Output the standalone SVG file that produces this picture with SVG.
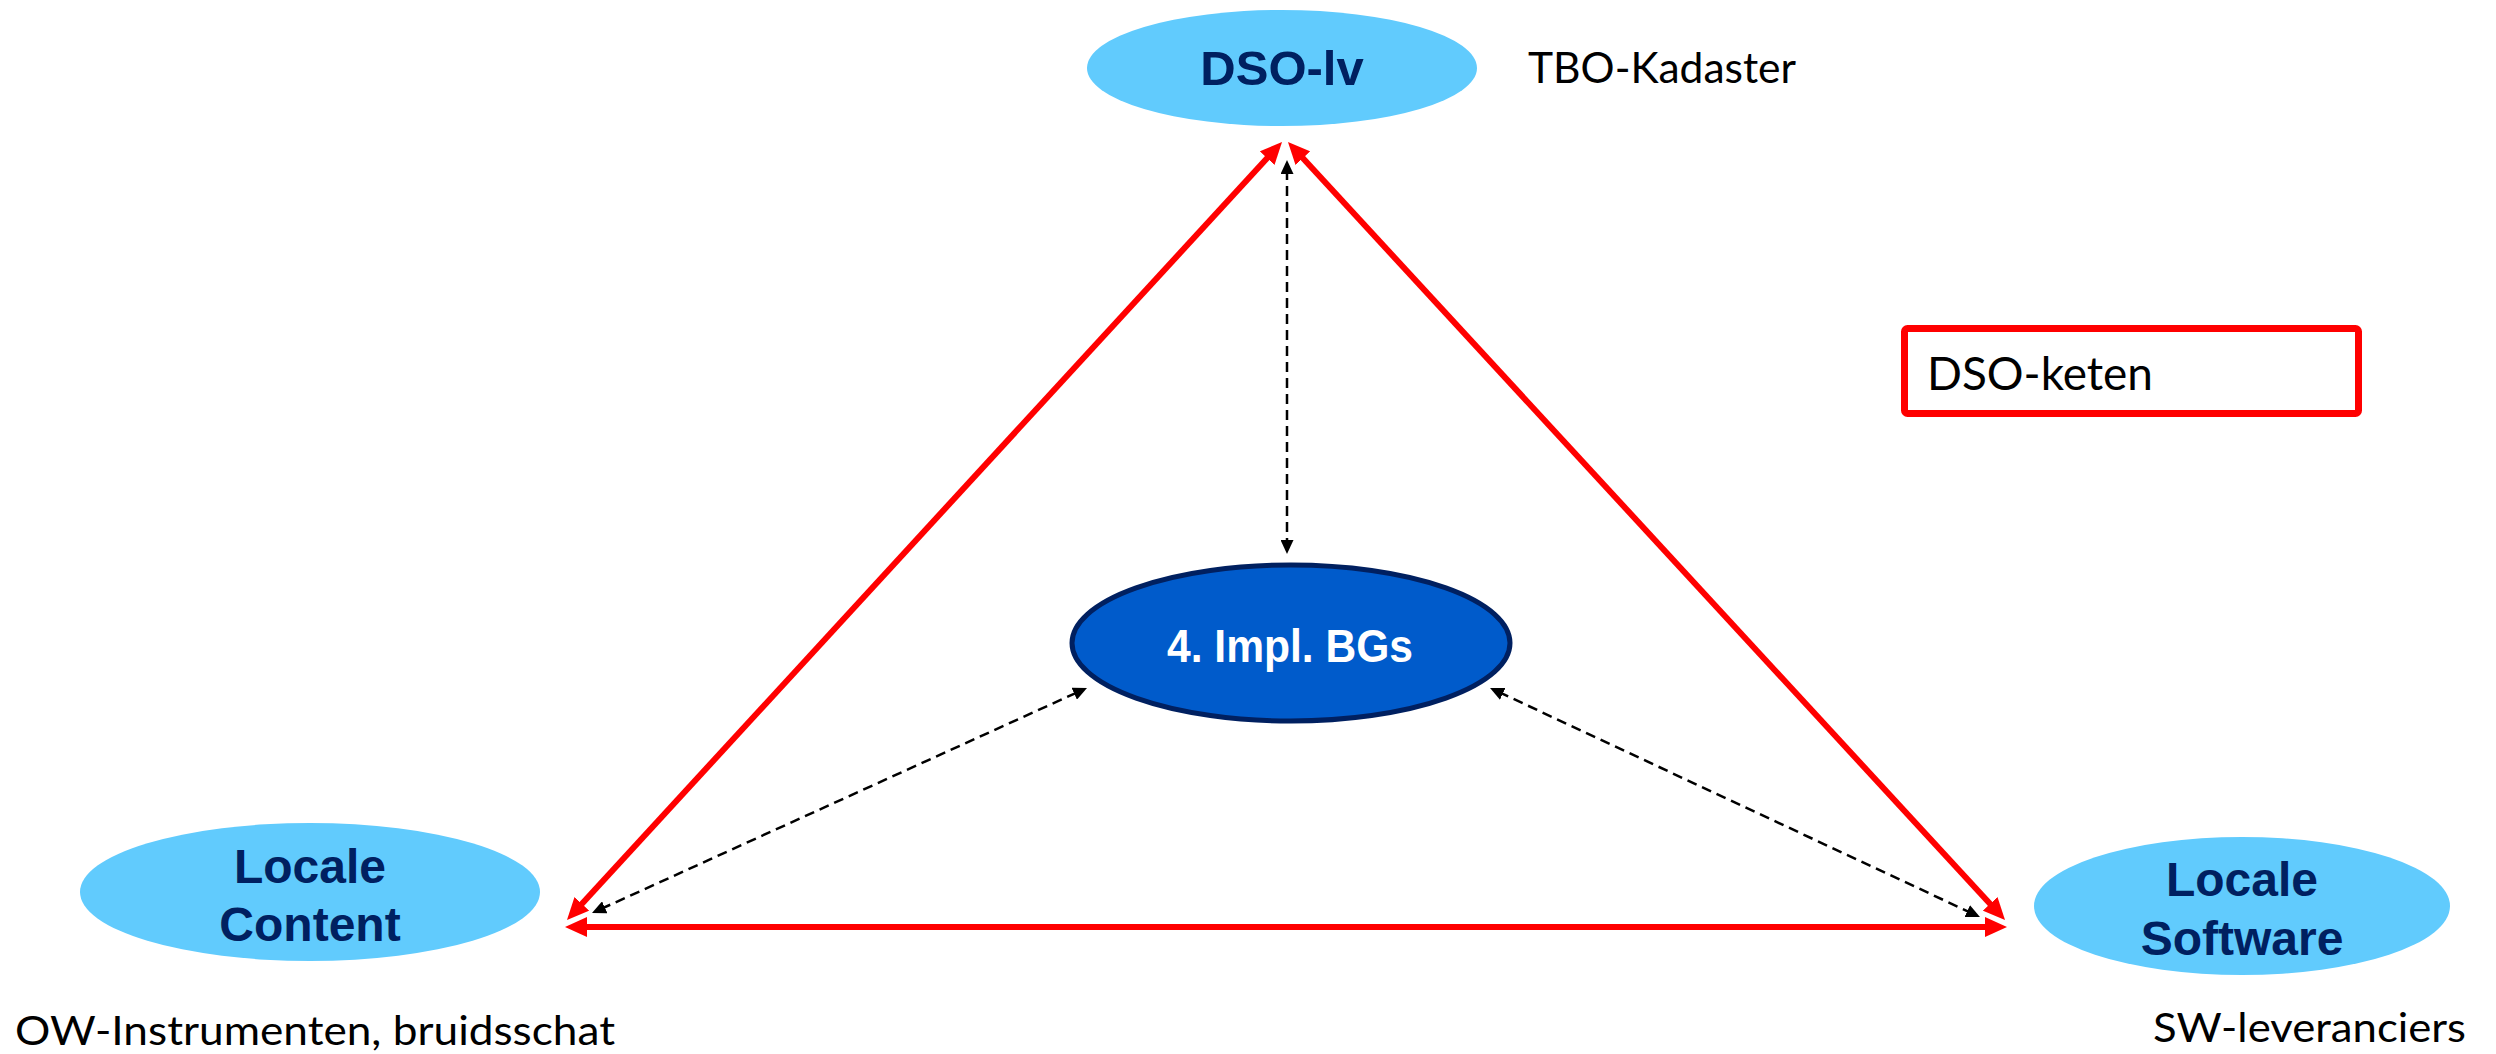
<svg xmlns="http://www.w3.org/2000/svg" width="2496" height="1054" viewBox="0 0 2496 1054">
<style>
.light{fill:#61CBFD;stroke:none}
.lbl{font-family:"Liberation Sans",Arial,sans-serif;font-weight:bold;fill:#002060;text-anchor:middle}
.note{font-family:Lato,"Open Sans",sans-serif;fill:#000}
.red{stroke:#FF0000;stroke-width:6;fill:none;marker-start:url(#ra);marker-end:url(#ra)}
.dash{stroke:#000;stroke-width:2.5;stroke-dasharray:10 6;fill:none;marker-start:url(#ba);marker-end:url(#ba)}
</style>
<defs>
<marker id="ra" markerUnits="userSpaceOnUse" viewBox="0 0 22 20" markerWidth="22" markerHeight="20" refX="10" refY="10" orient="auto-start-reverse">
<path d="M0,0 L22,10 L0,20 z" fill="#FF0000"/>
</marker>
<marker id="ba" markerUnits="userSpaceOnUse" viewBox="0 0 14 13" markerWidth="14" markerHeight="13" refX="4" refY="6.5" orient="auto-start-reverse">
<path d="M0,0 L14,6.5 L0,13 z" fill="#000"/>
</marker>
</defs>
<rect width="2496" height="1054" fill="#fff"/>
<g id="connectors">
<line class="red" x1="575.1" y1="911.2" x2="1273.9" y2="150.8"/>
<line class="red" x1="1296.1" y1="150.8" x2="1996.9" y2="911.2"/>
<line class="red" x1="577" y1="927" x2="1995" y2="927"/>
<line class="dash" x1="1287" y1="170" x2="1287" y2="544"/>
<line class="dash" x1="601.1" y1="908.9" x2="1077.9" y2="692.1"/>
<line class="dash" x1="1499.1" y1="692.2" x2="1970.9" y2="912.8"/>
</g>
<g id="dso-lv">
<ellipse class="light" cx="1282" cy="68" rx="195" ry="58"/>
<text class="lbl" x="1282" y="85" font-size="49">DSO-lv</text>
</g>
<g id="tbo-kadaster">
<text class="note" x="1528" y="83" font-size="42" textLength="268" lengthAdjust="spacingAndGlyphs">TBO-Kadaster</text>
</g>
<g id="impl-bgs">
<ellipse cx="1291" cy="643" rx="219" ry="78" fill="#005BCB" stroke="#002060" stroke-width="5"/>
<text x="1290" y="662" font-family="Liberation Sans, Arial, sans-serif" font-weight="bold" font-size="46" fill="#fff" text-anchor="middle" textLength="246" lengthAdjust="spacingAndGlyphs">4. Impl. BGs</text>
</g>
<g id="locale-content">
<ellipse class="light" cx="310" cy="892" rx="230" ry="69"/>
<text class="lbl" x="310" y="883" font-size="48">Locale</text>
<text class="lbl" x="310" y="941" font-size="48">Content</text>
</g>
<g id="ow-note">
<text class="note" x="15" y="1045" font-size="41" textLength="600" lengthAdjust="spacingAndGlyphs">OW-Instrumenten, bruidsschat</text>
</g>
<g id="locale-software">
<ellipse class="light" cx="2242" cy="906" rx="208" ry="69"/>
<text class="lbl" x="2242" y="896" font-size="48">Locale</text>
<text class="lbl" x="2242" y="955" font-size="48">Software</text>
</g>
<g id="sw-note">
<text class="note" x="2153" y="1042" font-size="41" textLength="313" lengthAdjust="spacingAndGlyphs">SW-leveranciers</text>
</g>
<g id="dso-keten">
<rect x="1904.5" y="328.5" width="454" height="85" rx="3" fill="none" stroke="#FF0000" stroke-width="7"/>
<text class="note" x="1927" y="390" font-size="47" textLength="226" lengthAdjust="spacingAndGlyphs">DSO-keten</text>
</g>
</svg>
